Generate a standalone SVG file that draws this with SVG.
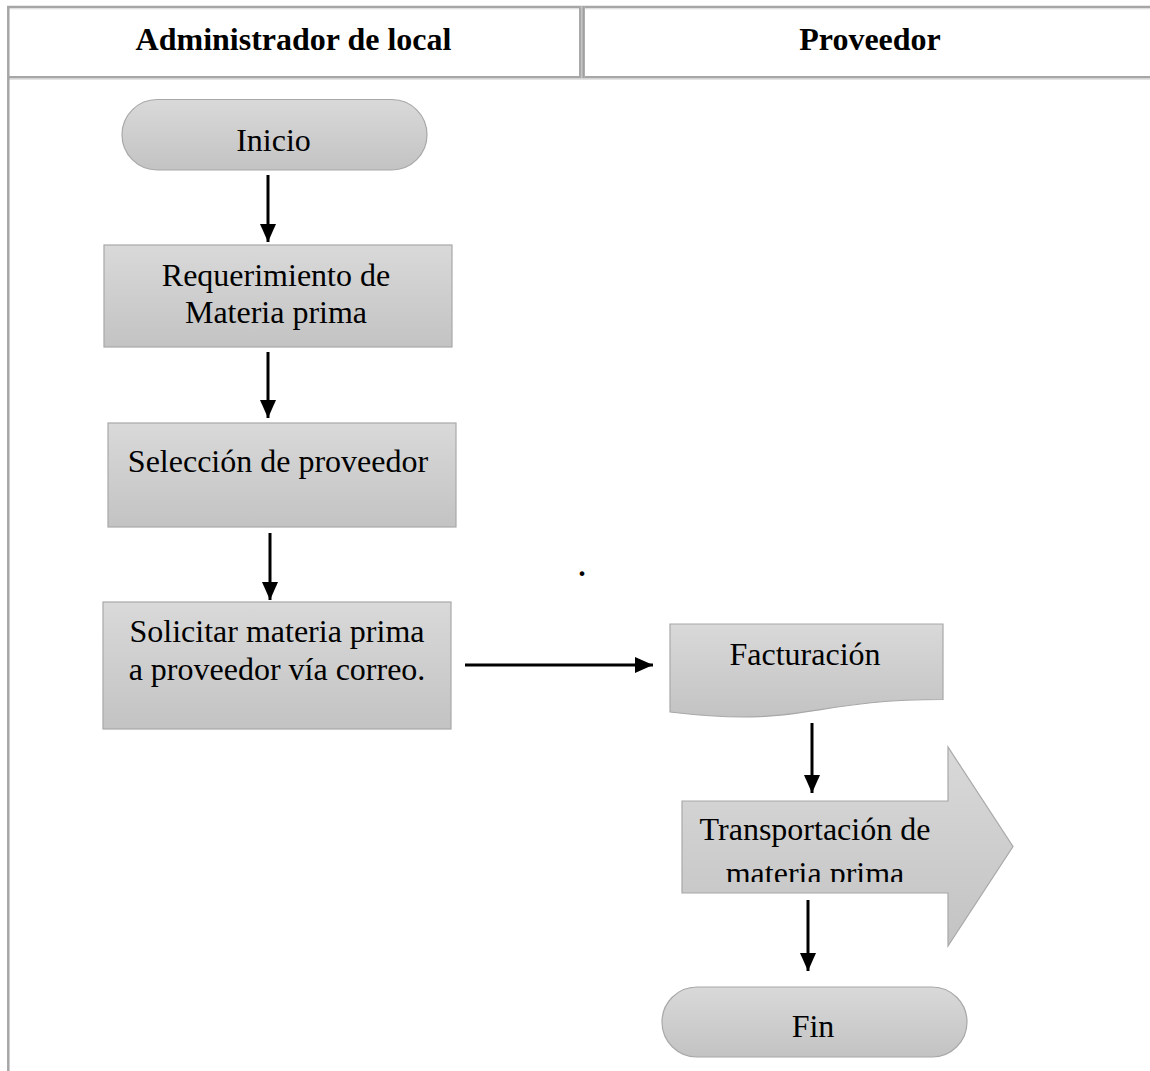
<svg xmlns="http://www.w3.org/2000/svg" width="1150" height="1071" viewBox="0 0 1150 1071">
  <style>
    .hdr { font-family: "Liberation Serif", "Times New Roman", serif; font-weight: bold; font-size: 32px; fill: #000; text-anchor: middle; }
    .lbl { font-family: "Liberation Serif", "Times New Roman", serif; font-size: 32px; fill: #000; text-anchor: middle; }
    .shape { fill: url(#grayFill); stroke: #a8a8a8; stroke-width: 1.2; }
    .rule { stroke: #a6a6a6; stroke-width: 2.5; fill: none; }
    .rule-lite { stroke: #dcdcdc; stroke-width: 1; fill: none; }
    .conn { stroke: #000; stroke-width: 3; fill: none; marker-end: url(#head); }
  </style>
  <defs>
    <linearGradient id="grayFill" x1="0" y1="0" x2="0" y2="1">
      <stop offset="0" stop-color="#d9d9d9"/>
      <stop offset="1" stop-color="#c3c3c3"/>
    </linearGradient>
    <marker id="head" markerUnits="userSpaceOnUse" markerWidth="19" markerHeight="17" refX="18" refY="8" orient="auto">
      <path d="M0,0 L18,8 L0,16 Z" fill="#000"/>
    </marker>
    <clipPath id="arrowText">
      <rect x="682" y="800" width="331" height="82"/>
    </clipPath>
  </defs>

  <rect width="1150" height="1071" fill="#fff"/>

  <!-- lane table -->
  <g id="lanes">
    <line class="rule" x1="7" y1="7" x2="1150" y2="7"/>
    <line class="rule-lite" x1="9" y1="8.8" x2="1150" y2="8.8"/>
    <line class="rule" x1="7" y1="77.3" x2="1150" y2="77.3"/>
    <line class="rule-lite" x1="9" y1="79.3" x2="1150" y2="79.3"/>
    <line class="rule" x1="8.3" y1="6" x2="8.3" y2="1071"/>
    <rect x="579" y="6" width="6" height="72" fill="#c4c4c4"/>
    <line x1="580" y1="6" x2="580" y2="78" stroke="#a0a0a0" stroke-width="1.5"/>
    <line x1="583.6" y1="6" x2="583.6" y2="78" stroke="#a0a0a0" stroke-width="2"/>
    <text class="hdr" x="293.5" y="50">Administrador de local</text>
    <text class="hdr" x="870" y="50">Proveedor</text>
  </g>

  <!-- connectors -->
  <g id="connectors">
    <line class="conn" x1="268" y1="175" x2="268" y2="242"/>
    <line class="conn" x1="268" y1="352" x2="268" y2="418"/>
    <line class="conn" x1="270" y1="533" x2="270" y2="600"/>
    <line class="conn" x1="465" y1="665" x2="653" y2="665"/>
    <line class="conn" x1="812" y1="723" x2="812" y2="793"/>
    <line class="conn" x1="808" y1="900" x2="808" y2="971"/>
  </g>

  <g id="inicio">
    <rect class="shape" x="122" y="99.5" width="305" height="70.5" rx="35.2" ry="35.2"/>
    <text class="lbl" x="273.5" y="151">Inicio</text>
  </g>

  <g id="requerimiento">
    <rect class="shape" x="104" y="245" width="348" height="102"/>
    <text class="lbl" x="276" y="286">Requerimiento de</text>
    <text class="lbl" x="276" y="323">Materia prima</text>
  </g>

  <g id="seleccion">
    <rect class="shape" x="108" y="423" width="348" height="104"/>
    <text class="lbl" x="278" y="472">Selección de proveedor</text>
  </g>

  <g id="solicitar">
    <rect class="shape" x="103" y="602" width="348" height="127"/>
    <text class="lbl" x="277" y="642">Solicitar materia prima</text>
    <text class="lbl" x="277" y="680">a proveedor vía correo.</text>
  </g>

  <g id="marca">
    <text class="lbl" x="582" y="576" style="font-size:40px">.</text>
  </g>

  <g id="facturacion">
    <path class="shape" d="M670,624 H943 V699.5 C806.5,699.5 806.5,728.3 670,712 Z"/>
    <text class="lbl" x="805" y="665">Facturación</text>
  </g>

  <g id="transportacion">
    <path class="shape" d="M682,801 H948 V747 L1013,846.5 L948,946 V893 H682 Z"/>
    <g clip-path="url(#arrowText)">
      <text class="lbl" x="815" y="840">Transportación de</text>
      <text class="lbl" x="815" y="884">materia prima</text>
    </g>
  </g>

  <g id="fin">
    <rect class="shape" x="662" y="987" width="305" height="70" rx="35" ry="35"/>
    <text class="lbl" x="813" y="1037">Fin</text>
  </g>
</svg>
